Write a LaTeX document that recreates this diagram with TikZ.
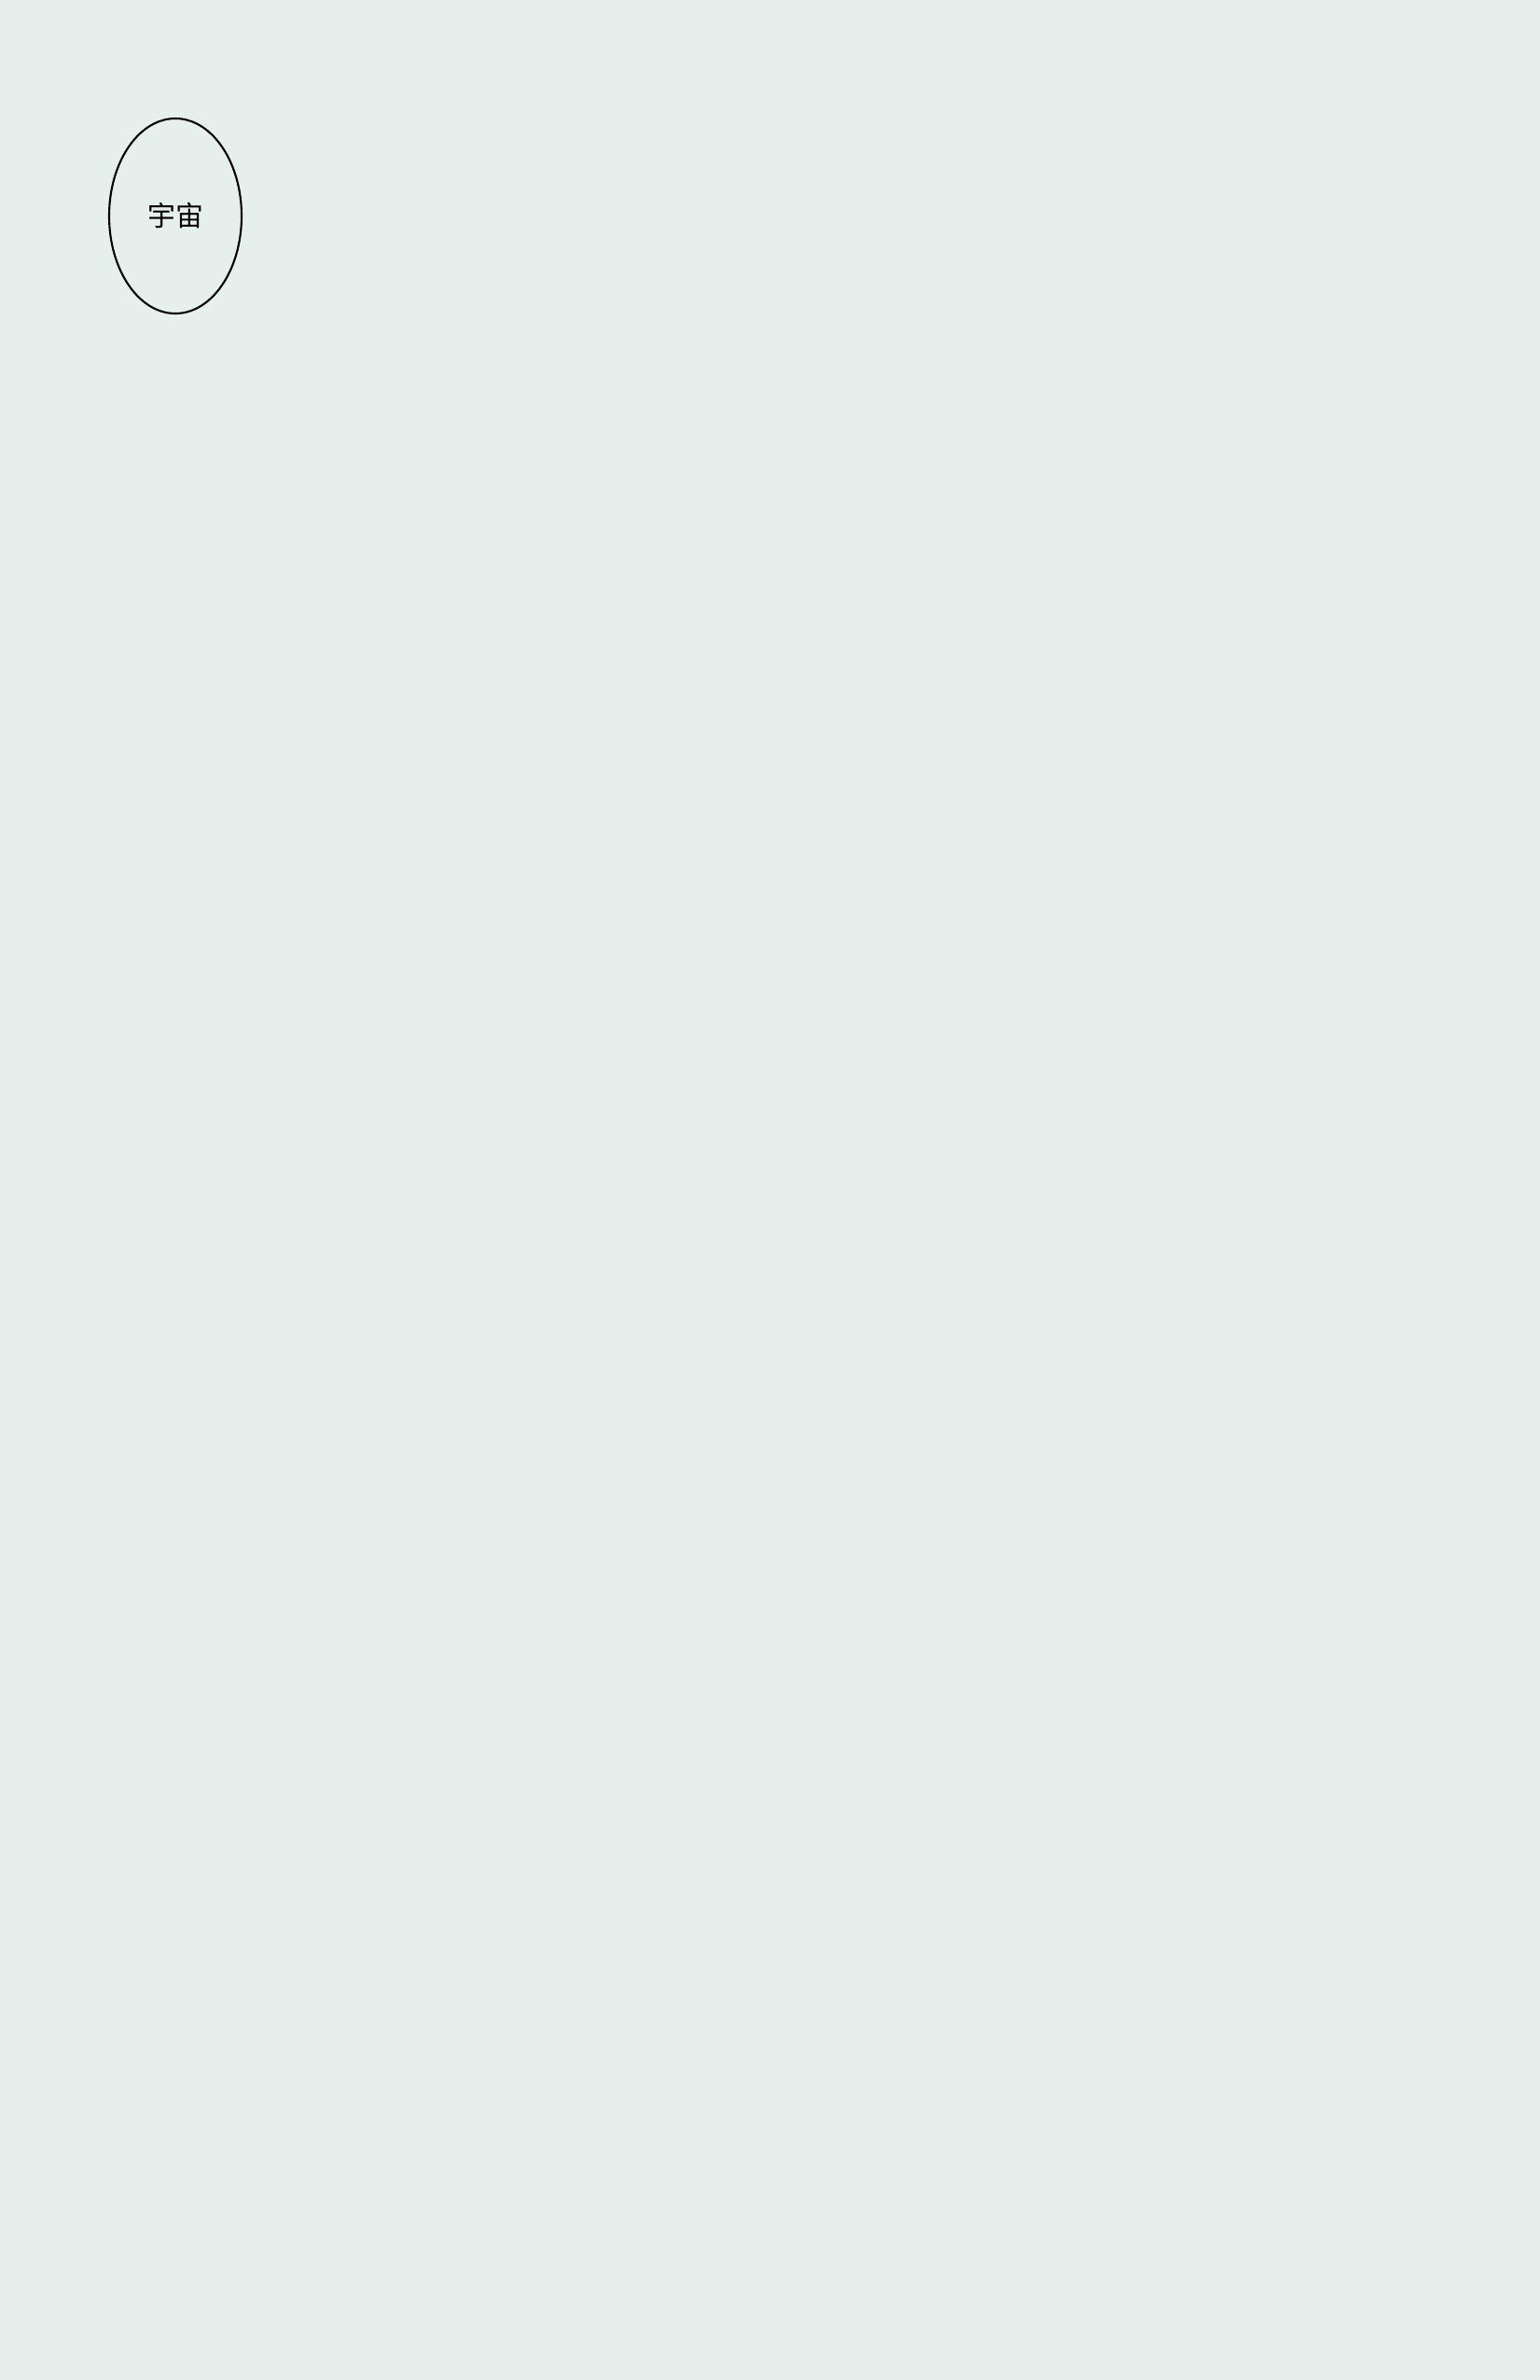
\documentclass[tikz,border=0pt]{standalone}
\usepackage{fontspec}
\newfontfamily\cjk{Noto Sans CJK SC}
\usepackage{tikz}
\usetikzlibrary{shapes.geometric,positioning}

\definecolor{paper}{RGB}{229,239,236}

\begin{document}
\begin{tikzpicture}[%
    x=1cm,y=1cm,
    concept/.style={ellipse,draw,line width=0.6pt,
        minimum width=1.42cm,minimum height=2.09cm,
        inner sep=0pt,font=\cjk\fontsize{8.5pt}{10pt}\selectfont}
    ]
    \fill[paper] (0,0) rectangle (16.51,-25.51);
    \useasboundingbox (0,0) rectangle (16.51,-25.51);

    \node[concept] (universe) at (1.88,-2.315) {宇宙};

\end{tikzpicture}
\end{document}
